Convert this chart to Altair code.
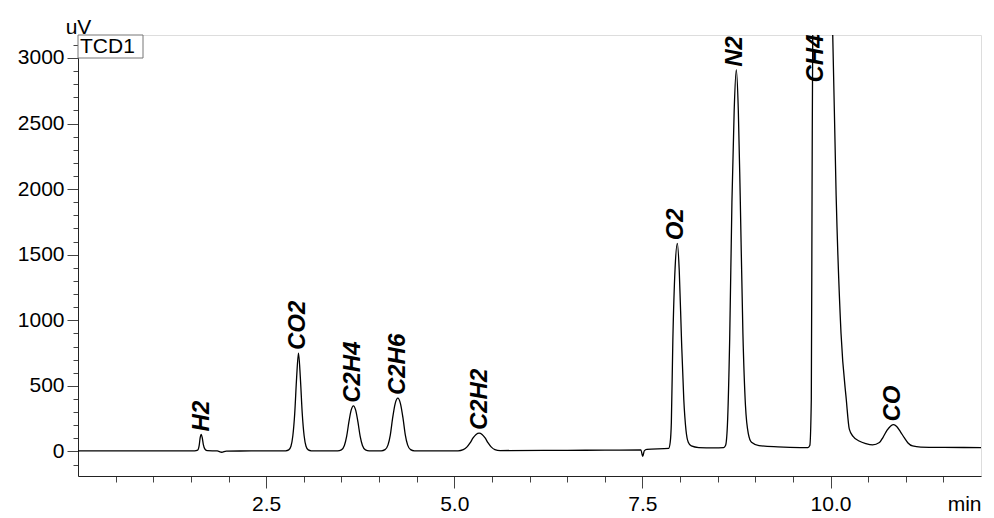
import altair as alt
import pandas as pd

# Chromatogram trace (time in min, signal in uV)
times = [0.0, 0.5, 1.0, 1.3, 1.55, 1.59, 1.61, 1.625, 1.637, 1.65, 1.665, 1.69, 1.72,
         1.85, 1.91, 1.97, 2.3,
         2.76, 2.80, 2.83, 2.855, 2.88, 2.905, 2.93, 2.955, 2.98, 3.005, 3.03, 3.06, 3.10,
         3.45, 3.50, 3.54, 3.57, 3.60, 3.63, 3.66, 3.69, 3.72, 3.75, 3.78, 3.82, 3.87,
         4.03, 4.08, 4.12, 4.15, 4.18, 4.215, 4.25, 4.285, 4.32, 4.35, 4.38, 4.42, 4.47,
         5.05, 5.12, 5.17, 5.21, 5.25, 5.29, 5.33, 5.37, 5.41, 5.45, 5.49, 5.54, 5.61,
         6.5, 7.0, 7.48, 7.505, 7.525, 7.56,
         7.85, 7.87, 7.885, 7.905, 7.935, 7.965, 7.99, 8.02, 8.05, 8.08, 8.11, 8.15, 8.25, 8.45,
         8.58, 8.605, 8.63, 8.66, 8.69, 8.72, 8.748, 8.775, 8.80, 8.836, 8.87, 8.91, 8.95, 9.05, 9.3, 9.6,
         9.70, 9.725, 9.745, 9.755, 9.765, 9.85, 9.95, 10.025, 10.075, 10.14, 10.21, 10.25, 10.30, 10.38, 10.47, 10.56,
         10.65, 10.70, 10.75, 10.80, 10.84, 10.88, 10.93, 10.98, 11.03, 11.09, 11.2, 11.5, 12.0]
signal = [5, 5, 4, 5, 5, 10, 45, 110, 130, 108, 55, 15, 6,
          4, -6, 3, 4,
          5, 12, 40, 120, 290, 560, 750, 560, 290, 120, 40, 12, 5,
          5, 12, 45, 115, 225, 315, 348, 315, 225, 115, 45, 12, 5,
          5, 14, 50, 125, 250, 365, 407, 365, 250, 125, 50, 14, 5,
          5, 14, 35, 65, 103, 130, 140, 130, 103, 65, 35, 14, 7,
          9, 10, 12, -38, 5, 16,
          24, 70, 220, 850, 1400, 1587, 1380, 850, 400, 160, 70, 42, 30, 28,
          30, 45, 200, 850, 1900, 2600, 2910, 2600, 1950, 900, 350, 130, 70, 45, 35, 30,
          30, 45, 400, 2000, 3300, 4200, 4200, 3300, 1950, 900, 394, 170, 115, 80, 60, 50,
          68, 110, 160, 195, 205, 190, 150, 105, 65, 42, 33, 31, 30]

peak_names = ["H2", "CO2", "C2H4", "C2H6", "C2H2", "O2", "N2", "CH4", "CO"]
label_times = [1.646, 2.928, 3.66, 4.25, 5.34, 7.95, 8.73, 9.81, 10.83]
label_values = [130, 750, 348, 407, 140, 1587, 2910, 2790, 205]

y_ticks = [v for v in range(-100, 3101, 100)]
x_ticks = [i * 0.5 for i in range(1, 24)]

FONT = "Liberation Sans"

trace = pd.DataFrame({"t": times, "v": signal})
labels = pd.DataFrame({"name": peak_names, "t": label_times, "v": label_values})

x_scale = alt.Scale(domain=[0, 12], nice=False, zero=False)
y_scale = alt.Scale(domain=[-187, 3175], nice=False, zero=False)

x_axis = alt.Axis(
    values=x_ticks, tickCount=200,
    labelExpr="abs(datum.value % 2.5) < 1e-9 ? format(datum.value, '.1f') : ''",
    tickSize={"condition": {"test": "abs(datum.value % 2.5) < 1e-9", "value": 12}, "value": 6},
    labelOverlap=False, labelFlush=False, grid=False,
    domainColor="#222", tickColor="#444", labelColor="black",
    labelFont=FONT, labelFontSize=21, labelPadding=5,
    title="min", titleFont=FONT, titleFontSize=21, titleFontWeight="normal",
    titleX=903, titleY=34, titleAlign="right", titleBaseline="alphabetic", titleColor="black",
)
y_axis = alt.Axis(
    values=y_ticks, tickCount=200,
    labelExpr="datum.value % 500 === 0 ? format(datum.value, 'd') : ''",
    tickSize={"condition": {"test": "datum.value % 500 === 0", "value": 11}, "value": 5},
    labelOverlap=False, labelFlush=False, grid=False,
    domainColor="#222", tickColor="#444", labelColor="black",
    labelFont=FONT, labelFontSize=21, labelPadding=3,
    title="uV", titleFont=FONT, titleFontSize=21, titleFontWeight="normal", titleAngle=0,
    titleX=0, titleY=-2, titleAlign="center", titleBaseline="alphabetic", titleColor="black",
)

line = alt.Chart(trace).mark_line(
    color="black", strokeWidth=1.3, clip=True, interpolate="monotone"
).encode(
    x=alt.X("t:Q", scale=x_scale, axis=x_axis),
    y=alt.Y("v:Q", scale=y_scale, axis=y_axis),
)

text = alt.Chart(labels).mark_text(
    angle=270, align="left", baseline="middle", dx=3,
    font=FONT, fontSize=24, fontWeight="bold", fontStyle="italic", color="black",
).encode(
    x=alt.X("t:Q", scale=x_scale),
    y=alt.Y("v:Q", scale=y_scale),
    text="name:N",
)

box_df = pd.DataFrame({"name": ["TCD1"]})
box = alt.Chart(box_df).mark_rect(fill="white", stroke="#777", strokeWidth=1).encode(
    x=alt.value(0), x2=alt.value(65), y=alt.value(0), y2=alt.value(23)
)
box_text = alt.Chart(box_df).mark_text(
    align="left", baseline="middle", font=FONT, fontSize=21, color="black"
).encode(x=alt.value(2), y=alt.value(12), text="name:N")

chart = alt.layer(line, text, box, box_text).properties(
    width=903, height=441,
    padding={"left": 70, "top": 27, "right": 4, "bottom": 37},
    autosize=alt.AutoSizeParams(type="none"),
).configure_view(stroke="#888", strokeWidth=1).configure(background="white")

chart.save("out.html", embed_options={"renderer": "svg", "actions": False})
